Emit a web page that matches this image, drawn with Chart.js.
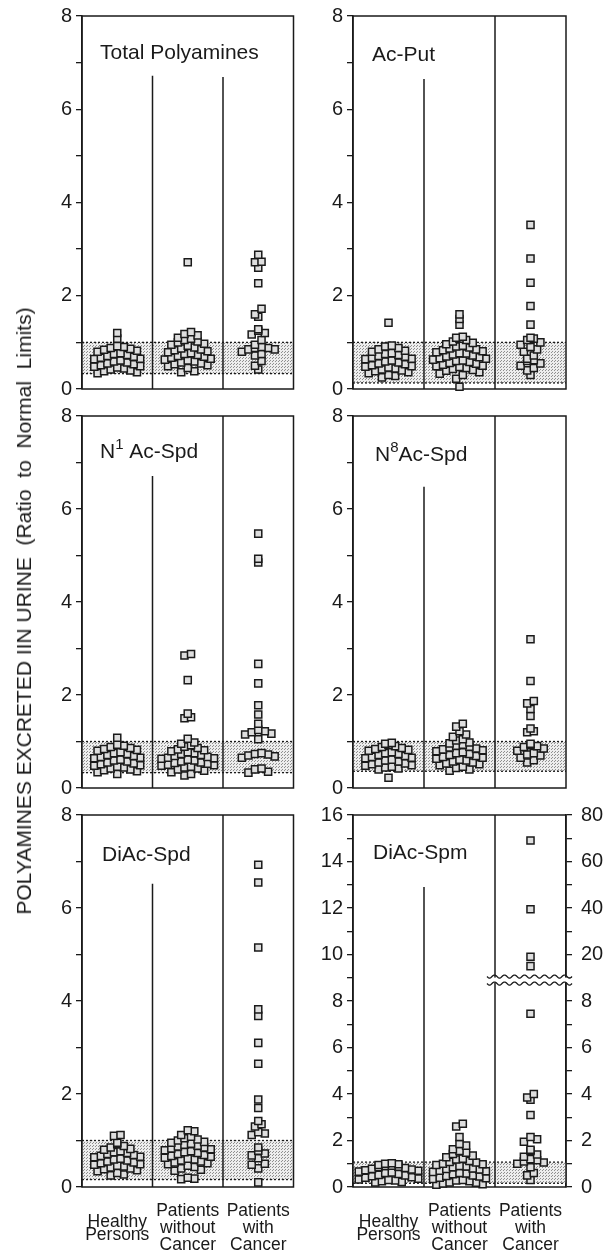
<!DOCTYPE html>
<html>
<head>
<meta charset="utf-8">
<script src="https://cdn.jsdelivr.net/npm/chart.js@4.4.1/dist/chart.umd.min.js"></script>
<style>
    body { margin: 0; background: #fff; }
    #page { position: relative; width: 605px; height: 1252px; overflow: hidden; }
    #page canvas { position: absolute; }
    #y_title {
        position: absolute; left: 24px; top: 611px;
        transform: translate(-50%, -50%) rotate(-90deg);
        font: 21px "Liberation Sans", Arial, sans-serif; color: #1a1a1a;
        white-space: pre; z-index: 2;
    }
</style>
</head>
<body>
<div id="page">
    <div id="y_title">POLYAMINES EXCRETED IIN URINE  (Ratio  to  Normal  Limits)</div>
</div>
<script>
const group_labels = [['', 'Healthy', 'Persons'], ['Patients', 'without', 'Cancer'], ['Patients', 'with', 'Cancer']];

// Total Polyamines
const total_healthy = [1.2, 1.08, 0.92, 0.9, 0.88, 0.86, 0.84, 0.82, 0.8, 0.77, 0.75, 0.73, 0.71, 0.69, 0.67, 0.65, 0.64, 0.61, 0.59, 0.57, 0.55, 0.53, 0.51, 0.49, 0.48, 0.46, 0.44, 0.42, 0.4, 0.38, 0.36, 0.34];
const total_no_cancer = [2.72, 1.22, 1.18, 1.15, 1.1, 1.08, 1.05, 1.02, 1.0, 0.97, 0.95, 0.93, 0.89, 0.87, 0.85, 0.83, 0.81, 0.79, 0.77, 0.75, 0.73, 0.71, 0.69, 0.67, 0.65, 0.63, 0.61, 0.59, 0.57, 0.55, 0.53, 0.51, 0.49, 0.45, 0.38, 0.36];
const total_cancer = [2.88, 2.73, 2.72, 2.6, 2.27, 1.72, 1.6, 1.55, 1.28, 1.25, 1.2, 1.17, 1.05, 0.95, 0.9, 0.88, 0.88, 0.85, 0.85, 0.8, 0.75, 0.72, 0.6, 0.5, 0.42];
const total_normal = [0.33, 1.0];

// Ac-Put
const acput_healthy = [1.42, 0.93, 0.91, 0.88, 0.85, 0.82, 0.8, 0.77, 0.75, 0.73, 0.71, 0.69, 0.67, 0.65, 0.64, 0.61, 0.59, 0.57, 0.55, 0.53, 0.51, 0.49, 0.48, 0.46, 0.44, 0.42, 0.4, 0.38, 0.36, 0.34, 0.3, 0.28, 0.25];
const acput_no_cancer = [1.6, 1.5, 1.38, 1.12, 1.1, 1.08, 1.05, 1.02, 0.99, 0.96, 0.93, 0.91, 0.89, 0.87, 0.85, 0.83, 0.81, 0.79, 0.77, 0.76, 0.74, 0.72, 0.7, 0.68, 0.66, 0.65, 0.63, 0.61, 0.6, 0.58, 0.56, 0.54, 0.52, 0.5, 0.49, 0.47, 0.45, 0.43, 0.41, 0.39, 0.36, 0.33, 0.3, 0.22, 0.05];
const acput_cancer = [3.52, 2.8, 2.28, 1.78, 1.38, 1.1, 1.08, 1.05, 1.0, 0.95, 0.9, 0.85, 0.8, 0.72, 0.65, 0.62, 0.6, 0.55, 0.5, 0.45, 0.4, 0.3];
const acput_normal = [0.13, 1.0];

// N1 Ac-Spd
const n1_healthy = [1.08, 0.93, 0.91, 0.88, 0.86, 0.84, 0.82, 0.8, 0.77, 0.75, 0.73, 0.71, 0.69, 0.67, 0.65, 0.64, 0.61, 0.59, 0.57, 0.55, 0.53, 0.51, 0.49, 0.48, 0.46, 0.44, 0.42, 0.4, 0.38, 0.36, 0.34, 0.3];
const n1_no_cancer = [2.88, 2.85, 2.32, 1.6, 1.52, 1.5, 1.06, 0.98, 0.95, 0.92, 0.89, 0.86, 0.83, 0.81, 0.79, 0.77, 0.75, 0.73, 0.71, 0.69, 0.67, 0.65, 0.64, 0.63, 0.61, 0.59, 0.57, 0.55, 0.54, 0.52, 0.5, 0.49, 0.48, 0.46, 0.44, 0.42, 0.4, 0.37, 0.34, 0.3, 0.27];
const n1_cancer = [5.47, 4.93, 4.85, 2.67, 2.25, 1.78, 1.58, 1.38, 1.25, 1.22, 1.2, 1.17, 1.15, 1.05, 0.75, 0.73, 0.72, 0.7, 0.68, 0.65, 0.42, 0.4, 0.35, 0.33];
const n1_normal = [0.33, 1.0];

// N8 Ac-Spd
const n8_healthy = [0.97, 0.95, 0.93, 0.9, 0.88, 0.86, 0.84, 0.82, 0.8, 0.77, 0.75, 0.73, 0.71, 0.69, 0.67, 0.65, 0.64, 0.61, 0.59, 0.57, 0.55, 0.53, 0.51, 0.49, 0.48, 0.46, 0.44, 0.42, 0.4, 0.22];
const n8_no_cancer = [1.38, 1.32, 1.22, 1.15, 1.1, 1.05, 1.02, 0.98, 0.96, 0.93, 0.91, 0.89, 0.87, 0.85, 0.83, 0.81, 0.79, 0.77, 0.75, 0.73, 0.71, 0.69, 0.67, 0.65, 0.63, 0.61, 0.59, 0.57, 0.55, 0.53, 0.51, 0.49, 0.46, 0.43, 0.4, 0.37];
const n8_cancer = [3.2, 2.3, 1.87, 1.82, 1.7, 1.55, 1.28, 1.22, 1.2, 0.95, 0.92, 0.9, 0.88, 0.85, 0.8, 0.75, 0.72, 0.7, 0.65, 0.6, 0.55];
const n8_normal = [0.36, 1.0];

// DiAc-Spd
const diacspd_healthy = [1.12, 1.1, 0.95, 0.92, 0.88, 0.85, 0.82, 0.8, 0.77, 0.75, 0.73, 0.71, 0.69, 0.67, 0.65, 0.64, 0.61, 0.59, 0.57, 0.55, 0.53, 0.51, 0.49, 0.48, 0.46, 0.44, 0.42, 0.4, 0.38, 0.36, 0.34, 0.3, 0.27, 0.25];
const diacspd_no_cancer = [1.22, 1.2, 1.12, 1.08, 1.05, 1.02, 1.0, 0.97, 0.95, 0.93, 0.91, 0.89, 0.87, 0.85, 0.83, 0.81, 0.79, 0.77, 0.75, 0.73, 0.71, 0.69, 0.67, 0.65, 0.63, 0.61, 0.59, 0.57, 0.55, 0.53, 0.51, 0.49, 0.46, 0.43, 0.4, 0.37, 0.35, 0.2, 0.18, 0.17];
const diacspd_cancer = [6.93, 6.55, 5.15, 3.82, 3.68, 3.1, 2.65, 1.88, 1.7, 1.42, 1.35, 1.3, 1.18, 1.15, 1.12, 0.85, 0.78, 0.72, 0.68, 0.62, 0.5, 0.48, 0.4, 0.1];
const diacspd_normal = [0.16, 1.0];

// DiAc-Spm (values above the break are read on the right-hand scale)
const diacspm_healthy = [1.02, 1.0, 0.98, 0.95, 0.92, 0.9, 0.87, 0.85, 0.82, 0.78, 0.75, 0.72, 0.7, 0.66, 0.62, 0.6, 0.56, 0.52, 0.5, 0.46, 0.42, 0.4, 0.36, 0.32, 0.3, 0.28, 0.25, 0.22, 0.2];
const diacspm_no_cancer = [2.72, 2.6, 2.15, 1.85, 1.78, 1.62, 1.55, 1.48, 1.42, 1.35, 1.28, 1.22, 1.18, 1.12, 1.08, 1.05, 1.0, 0.98, 0.95, 0.9, 0.88, 0.85, 0.8, 0.78, 0.75, 0.7, 0.68, 0.65, 0.6, 0.58, 0.55, 0.5, 0.48, 0.45, 0.4, 0.38, 0.35, 0.3, 0.28, 0.25, 0.2, 0.18, 0.15, 0.12, 0.1];
const diacspm_cancer = [69, 39.5, 19, 15, 7.45, 4.0, 3.85, 3.75, 3.1, 2.15, 2.05, 1.95, 1.6, 1.55, 1.4, 1.3, 1.2, 1.15, 1.1, 1.05, 1.0, 0.85, 0.6, 0.5, 0.3];
const diacspm_normal = [0.16, 1.07];
const diacspm_right_labels = ['0', '2', '4', '6', '8', '20', '40', '60', '80'];
const diacspm_break = 8.9;

// page geometry of the 2 x 3 grid
const col_left = [0, 300], col_width = [300, 305], y_axis_width = [82, 53], right_pad = [4, 39];
const row_top = [0, 400, 800], row_height = [400, 400, 452], pad_top = [16, 16, 15], pad_bottom = [11, 12, 0];

const tick_font = { family: '"Liberation Sans", Arial, sans-serif', size: 20, lineHeight: 1 };
const ink = '#1a1a1a';

function spmToPlot(v) {
    // upper part of the broken axis: 20 sits at 10, 10 units per step
    return v <= diacspm_break ? v : 10 + (v - 20) / 10;
}

const panels = [
    { title: ['Total Polyamines'], title_at: [18, 37], groups: [total_healthy, total_no_cancer, total_cancer], normal: total_normal, dividers: [6.72, 6.69], y_max: 8, row: 0, col: 0 },
    { title: ['Ac-Put'], title_at: [19, 39], groups: [acput_healthy, acput_no_cancer, acput_cancer], normal: acput_normal, dividers: [6.65, 8], y_max: 8, row: 0, col: 1 },
    { title: ['N', '1', ' Ac-Spd'], title_at: [18, 36], groups: [n1_healthy, n1_no_cancer, n1_cancer], normal: n1_normal, dividers: [6.71, 8], y_max: 8, row: 1, col: 0 },
    { title: ['N', '8', 'Ac-Spd'], title_at: [22, 39], groups: [n8_healthy, n8_no_cancer, n8_cancer], normal: n8_normal, dividers: [6.48, 8], y_max: 8, row: 1, col: 1 },
    { title: ['DiAc-Spd'], title_at: [20, 40], groups: [diacspd_healthy, diacspd_no_cancer, diacspd_cancer], normal: diacspd_normal, dividers: [6.52, 8], y_max: 8, row: 2, col: 0 },
    { title: ['DiAc-Spm'], title_at: [20, 38], groups: [diacspm_healthy, diacspm_no_cancer, diacspm_cancer.map(spmToPlot)], normal: diacspm_normal, dividers: [12.9, 16], y_max: 16, row: 2, col: 1, axis_break: diacspm_break }
];

function makeStipple() {
    const tile = document.createElement('canvas');
    tile.width = 3;
    tile.height = 3;
    const t = tile.getContext('2d');
    t.fillStyle = '#ededed';
    t.fillRect(0, 0, 3, 3);
    t.fillStyle = '#8f8f8f';
    t.fillRect(0, 0, 1, 1);
    t.fillRect(2, 1, 1, 1);
    return tile;
}
const stipple = makeStipple();

function swarm(values, center, step_x, step_y) {
    // dot-plot layout: values within one marker height share a row and sit side by side,
    // lowest ones on the outside so each row bulges up in the middle
    const rows = {};
    values.forEach(v => {
        const r = Math.floor(v / step_y);
        (rows[r] = rows[r] || []).push(v);
    });
    const placed = [];
    Object.values(rows).forEach(row => {
        row.sort((a, b) => a - b);
        const n = row.length;
        const slots = [];
        for (let lo = 0, hi = n - 1; lo <= hi; lo++, hi--) {
            slots.push(lo);
            if (hi !== lo) slots.push(hi);
        }
        row.forEach((v, j) => placed.push({ x: center + (slots[j] - (n - 1) / 2) * step_x, y: v }));
    });
    return placed;
}

const panelDecor = {
    id: 'panelDecor',
    beforeDatasetsDraw(chart, args, opts) {
        const { ctx, chartArea: a, scales: { x, y } } = chart;
        const p = opts.panel;
        ctx.save();
        // normal range band
        const y_hi = y.getPixelForValue(p.normal[1]);
        const y_lo = y.getPixelForValue(p.normal[0]);
        ctx.fillStyle = ctx.createPattern(stipple, 'repeat');
        ctx.fillRect(a.left, y_hi, a.right - a.left, y_lo - y_hi);
        ctx.strokeStyle = ink;
        ctx.lineWidth = 1.3;
        ctx.setLineDash([2, 2]);
        [y_hi, y_lo].forEach(py => {
            ctx.beginPath();
            ctx.moveTo(a.left, py);
            ctx.lineTo(a.right, py);
            ctx.stroke();
        });
        ctx.setLineDash([]);
        // group dividers and frame
        ctx.lineWidth = 1.5;
        p.dividers.forEach((top, i) => {
            const px = x.getPixelForValue(i + 0.5);
            ctx.beginPath();
            ctx.moveTo(px, y.getPixelForValue(top));
            ctx.lineTo(px, a.bottom);
            ctx.stroke();
        });
        ctx.strokeRect(a.left, a.top, a.right - a.left, a.bottom - a.top);
        ctx.restore();
    },
    afterDraw(chart, args, opts) {
        const { ctx, chartArea: a, scales: { x, y } } = chart;
        const p = opts.panel;
        ctx.save();
        ctx.fillStyle = ink;
        ctx.textBaseline = 'middle';
        let tx = a.left + p.title_at[0];
        const ty = a.top + p.title_at[1];
        p.title.forEach((part, i) => {
            const sup = i % 2 === 1;
            ctx.font = (sup ? 15 : 21) + 'px "Liberation Sans", Arial, sans-serif';
            ctx.fillText(part, tx, sup ? ty - 7 : ty);
            tx += ctx.measureText(part).width;
        });
        if (p.axis_break) {
            const x0 = x.getPixelForValue(1.5) - 8;
            const x1 = a.right + 6;
            const yc = y.getPixelForValue(p.axis_break);
            ctx.fillStyle = '#fff';
            ctx.fillRect(x0, yc - 2.5, x1 - x0, 5);
            ctx.strokeStyle = ink;
            ctx.lineWidth = 1.3;
            [-3.5, 3.5].forEach(dy => {
                ctx.beginPath();
                for (let px = x0; px <= x1; px++) {
                    const py = yc + dy + 1.6 * Math.sin((px - x0) / 10 * 2 * Math.PI);
                    if (px === x0) ctx.moveTo(px, py); else ctx.lineTo(px, py);
                }
                ctx.stroke();
            });
        }
        ctx.restore();
    }
};

function yAxis(panel, position, width, labelFor) {
    return {
        type: 'linear',
        position: position,
        min: 0,
        max: panel.y_max,
        afterFit: (s) => { s.width = width; s.paddingTop = 0; s.paddingBottom = 0; },
        ticks: {
            stepSize: 1,
            autoSkip: false,
            padding: position === 'left' ? 4 : 9,
            color: ink,
            font: tick_font,
            callback: (v) => v % 2 === 0 ? labelFor(v) : ''
        },
        grid: { drawOnChartArea: false, drawTicks: true, tickLength: 6, color: ink, lineWidth: 1.3 },
        border: { display: true, color: ink, width: 1.5 }
    };
}

function buildPanel(panel) {
    const canvas = document.createElement('canvas');
    const w = col_width[panel.col], h = row_height[panel.row];
    canvas.width = w;
    canvas.height = h;
    canvas.style.left = col_left[panel.col] + 'px';
    canvas.style.top = row_top[panel.row] + 'px';
    document.getElementById('page').appendChild(canvas);

    const bottom_row = panel.row === 2;
    const scales = {
        x: {
            type: 'linear',
            min: -0.5,
            max: 2.5,
            display: bottom_row,
            afterBuildTicks: (s) => { s.ticks = [{ value: 0 }, { value: 1 }, { value: 2 }]; },
            afterFit: (s) => { s.height = bottom_row ? 65 : 0; s.paddingLeft = 0; s.paddingRight = 0; },
            ticks: {
                padding: 15.5,
                color: ink,
                font: (c) => ({ family: tick_font.family, size: 17.5, lineHeight: c.index === 0 ? '13px' : '17px' }),
                callback: (v) => group_labels[v]
            },
            grid: { display: false, drawTicks: false },
            border: { display: false }
        },
        y: yAxis(panel, 'left', y_axis_width[panel.col], (v) => v)
    };
    let pad_right = right_pad[panel.col];
    if (panel.axis_break) {
        scales.y2 = yAxis(panel, 'right', right_pad[panel.col], (v) => diacspm_right_labels[v / 2]);
        pad_right = 0;
    }

    new Chart(canvas, {
        type: 'scatter',
        data: {
            datasets: panel.groups.map((values, g) => ({
                data: swarm(values, g, 0.093, panel.y_max * 0.0196),
                pointStyle: 'rect',
                pointRadius: 5,
                pointBorderWidth: 1.5,
                pointBorderColor: ink,
                pointBackgroundColor: '#dedede',
                showLine: false,
                clip: false
            }))
        },
        options: {
            responsive: false,
            animation: false,
            events: [],
            layout: { padding: { top: pad_top[panel.row], bottom: pad_bottom[panel.row], left: 0, right: pad_right } },
            scales: scales,
            plugins: {
                legend: { display: false },
                tooltip: { enabled: false },
                panelDecor: { panel: panel }
            }
        },
        plugins: [panelDecor]
    });
}

panels.forEach(buildPanel);
</script>
</body>
</html>
